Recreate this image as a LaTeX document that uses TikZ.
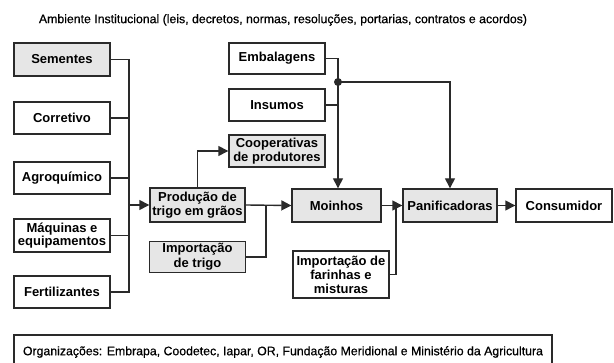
\documentclass[tikz,border=0pt]{standalone}
\usepackage{fontspec}
\setmainfont{Liberation Sans}
\newfontfamily\semifont[FakeBold=0.6]{Liberation Sans}
\usetikzlibrary{arrows.meta}
\definecolor{ln}{HTML}{2A2A2A}
\definecolor{gf}{HTML}{E6E6E6}
\begin{document}
\begin{tikzpicture}[x=1pt,y=-1pt,
  box/.style={draw=ln, line width=1.4pt, font=\bfseries\fontsize{13}{14}\selectfont, align=center, inner sep=0pt, fill=white},
  gbox/.style={box, fill=gf},
  conn/.style={draw=ln, line width=1.4pt},
  arr/.style={conn, -{Triangle[length=10pt,width=10pt]}},
  lbl/.style={font=\semifont\fontsize{12.3}{14}\selectfont, inner sep=0pt}]
\useasboundingbox (0,0) rectangle (614,363);
% title
\node[lbl] (title) at (283,20) {Ambiente Institucional (leis, decretos, normas, resoluções, portarias, contratos e acordos)};
% left column
\node[gbox, minimum width=96pt, minimum height=33pt] (sem) at (62,59.5) {Sementes};
\node[box, minimum width=96pt, minimum height=32pt] (cor) at (62,118) {Corretivo};
\node[box, minimum width=96pt, minimum height=32pt] (agr) at (62,178) {Agroquímico};
\node[box, minimum width=96pt, minimum height=33pt, font=\bfseries\fontsize{13}{12.5}\selectfont] (maq) at (62,235.5) {Máquinas e\\equipamentos};
\node[box, minimum width=96pt, minimum height=32pt] (fer) at (62,292) {Fertilizantes};
% middle
\node[gbox, minimum width=95pt, minimum height=34pt, font=\bfseries\fontsize{13}{14}\selectfont] (prod) at (197.5,205) {Produção de\\trigo em grãos};
\node[gbox, minimum width=96pt, minimum height=32pt, font=\bfseries\fontsize{13}{14}\selectfont] (coop) at (277,151) {Cooperativas\\de produtores};
\node[gbox, minimum width=96pt, minimum height=31pt, font=\bfseries\fontsize{13}{15}\selectfont] (imp) at (197.5,257) {Importação\\de trigo};
\node[box, minimum width=96pt, minimum height=31pt] (emb) at (277,58.5) {Embalagens};
\node[box, minimum width=96pt, minimum height=32pt] (ins) at (277,105) {Insumos};
\node[gbox, minimum width=89pt, minimum height=33pt] (moi) at (336.5,205.5) {Moinhos};
\node[box, minimum width=96pt, minimum height=47pt, font=\bfseries\fontsize{13}{14}\selectfont] (far) at (341,274.5) {Importação de\\farinhas e\\misturas};
\node[gbox, minimum width=94pt, minimum height=33pt] (pan) at (450,205.5) {Panificadoras};
\node[box, minimum width=96pt, minimum height=33pt] (cons) at (564,205.5) {Consumidor};
% bottom
\draw[conn, line width=1.2pt] (14,335) rectangle (552,370);
\node[lbl] (org) at (283,352) {Organizações: Embrapa, Coodetec, Iapar, OR, Fundação Meridional e Ministério da Agricultura};
% connectors: left bus
\coordinate (busT) at (129,59.5);
\coordinate (busB) at (129,292);
\coordinate (busM) at (129,205);
\draw[conn] (sem.east) -- (sem.east -| busT);
\draw[conn] (cor.east) -- (cor.east -| busT);
\draw[conn] (agr.east) -- (agr.east -| busT);
\draw[conn] (maq.east) -- (maq.east -| busT);
\draw[conn] (fer.east) -- (fer.east -| busT);
\draw[conn, line cap=rect] (busT) -- (busB);
\draw[arr] (busM) -- (prod.west);
% production
\draw[arr] (prod.north) |- (coop.west);
\coordinate (j1) at (266,205);
\draw[conn] (imp.east) -| (j1);
\draw[arr] (prod.east) -- (moi.west);
% supplies
\coordinate (dot) at (338,82);
\draw[arr] (emb.east) -| (moi.north -| dot);
\draw[conn] (ins.east) -- (ins.east -| dot);
\draw[arr] (dot) -| (pan.north);
\fill[ln] (dot) circle (4pt);
% mills to bakeries
\draw[arr] (moi.east) -- (pan.west);
\draw[arr] (pan.east) -- (cons.west);
\coordinate (j2) at (396,205);
\draw[conn] (far.east) -| (j2);
\end{tikzpicture}
\end{document}
